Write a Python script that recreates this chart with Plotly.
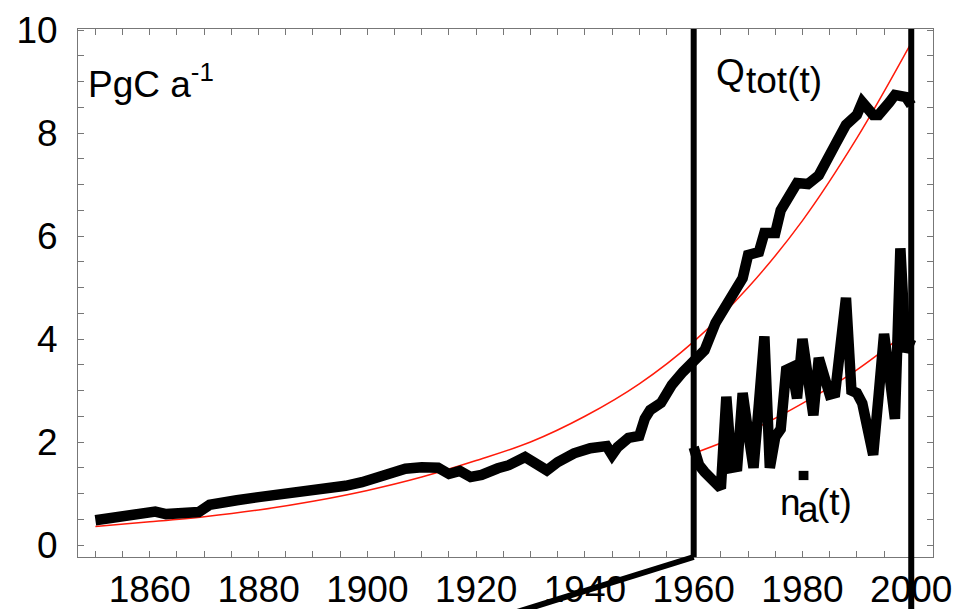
import plotly.graph_objects as go

# Total emissions Q_tot(t), PgC per year
q_years = [1850, 1852, 1854, 1857, 1861, 1863, 1866, 1869, 1871, 1873, 1876, 1880,
           1885, 1891, 1896, 1899, 1902, 1905, 1907, 1910, 1913, 1915, 1917, 1919,
           1921, 1924, 1926, 1929, 1931, 1933, 1935, 1938, 1941, 1944, 1945, 1946,
           1948, 1950, 1951, 1952, 1954, 1956, 1958, 1960, 1962, 1964, 1967, 1969,
           1970, 1972, 1973, 1975, 1976, 1979, 1981, 1983, 1986, 1988, 1990, 1991,
           1993, 1994, 1996, 1997, 1999, 2000]
q_vals = [0.48, 0.52, 0.56, 0.60, 0.65, 0.60, 0.62, 0.64, 0.78, 0.83, 0.87, 0.93,
          0.99, 1.07, 1.15, 1.22, 1.32, 1.40, 1.48, 1.51, 1.50, 1.38, 1.44, 1.32,
          1.36, 1.49, 1.55, 1.71, 1.60, 1.45, 1.61, 1.78, 1.88, 1.92, 1.75, 1.90,
          2.08, 2.12, 2.45, 2.62, 2.76, 3.11, 3.36, 3.55, 3.78, 4.31, 4.82, 5.18,
          5.63, 5.69, 6.06, 6.06, 6.50, 7.03, 7.01, 7.18, 7.77, 8.16, 8.35, 8.60,
          8.35, 8.35, 8.60, 8.74, 8.70, 8.54]

# Atmospheric increase n_a(t), PgC per year
na_years = list(range(1960, 2001))
na_vals = [1.90, 1.55, 1.42, 1.30, 1.20, 1.10, 2.88, 1.50, 1.52, 2.95,
           2.20, 1.50, 2.75, 4.05, 1.50, 2.10, 2.25, 3.40, 3.45, 2.85,
           4.00, 3.20, 2.52, 3.63, 3.20, 2.92, 2.95, 3.80, 4.80, 3.00,
           2.95, 2.75, 2.20, 1.75, 2.90, 4.10, 3.30, 2.45, 5.76, 3.75,
           4.00]

# Exponential reference curves
q_fit_years = [1850, 1860, 1870, 1880, 1890, 1900, 1910, 1920, 1930, 1940,
               1950, 1960, 1970, 1980, 1990, 2000]
q_fit_vals = [0.36, 0.45, 0.55, 0.68, 0.85, 1.06, 1.32, 1.64, 2.00, 2.50,
              3.13, 3.95, 5.00, 6.30, 7.90, 9.75]
na_fit_years = [1960, 1970, 1980, 1990, 2000]
na_fit_vals = [1.78, 2.20, 2.75, 3.40, 4.20]

x_ticks = [1860, 1880, 1900, 1920, 1940, 1960, 1980, 2000]
y_ticks = [0, 2, 4, 6, 8, 10]

W, H = 969, 609
ML, MR, MT, MB = 78, 36, 29, 52
FONT = "Liberation Sans"
FS = 37
FRAME = "#777777"


def px(xp):
    return (xp - ML) / (W - ML - MR)


def py(yp):
    return (H - MB - yp) / (H - MT - MB)


fig = go.Figure()

fig.add_trace(go.Scatter(x=q_fit_years, y=q_fit_vals, mode="lines",
                         line=dict(color="#ff1a0a", width=1.5, shape="spline")))
fig.add_trace(go.Scatter(x=na_fit_years, y=na_fit_vals, mode="lines",
                         line=dict(color="#ff1a0a", width=1.5, shape="spline")))
fig.add_trace(go.Scatter(x=q_years, y=q_vals, mode="lines",
                         line=dict(color="black", width=10.5)))
fig.add_trace(go.Scatter(x=na_years, y=na_vals, mode="lines",
                         line=dict(color="black", width=10.5)))

# bracket lines marking the 1960-2000 window
bracket = dict(color="black", width=6)
fig.add_shape(type="line", xref="x", yref="paper", x0=1960, x1=1960, y0=1, y1=0,
              line=bracket, layer="above")
fig.add_shape(type="line", xref="x", yref="paper", x0=1960, x1=1922.6, y0=0, y1=-0.12,
              line=bracket, layer="above")
fig.add_shape(type="line", xref="x", yref="paper", x0=2000, x1=2000, y0=1, y1=-0.12,
              line=bracket, layer="above")

# dot over the n
fig.add_shape(type="rect", xref="x", yref="y", x0=1979.3, x1=1981.1, y0=1.26, y1=1.44,
              fillcolor="black", line=dict(width=0), layer="above")

txt = dict(family=FONT, size=FS, color="black")


def label(text, xl, yb):
    fig.add_annotation(text=text, xref="paper", yref="paper", x=px(xl), y=py(yb),
                       xanchor="left", yanchor="bottom", showarrow=False,
                       font=txt, borderpad=0, borderwidth=0)


label("PgC a<sup>-1</sup>", 88, 105)
label("Q", 716, 93)
label("tot(t)", 746, 101)
label("n", 780, 523)
label("a", 798, 530)
label("(t)", 817, 523)

axis_common = dict(showline=True, linecolor=FRAME, linewidth=1, mirror="ticks",
                   ticks="inside", ticklen=6, tickcolor=FRAME, tickwidth=1,
                   showgrid=False, zeroline=False, automargin=False,
                   tickfont=dict(family=FONT, size=FS, color="black"))

fig.update_xaxes(range=[1846.8, 2004.0], tickmode="array", tickvals=x_ticks,
                 ticklabelstandoff=0,
                 minor=dict(dtick=5, tick0=1850, ticks="inside", ticklen=6,
                            tickcolor=FRAME, showgrid=False),
                 **axis_common)
fig.update_yaxes(range=[-0.233, 10.02], tickmode="array", tickvals=y_ticks,
                 ticklabelstandoff=12,
                 minor=dict(dtick=0.5, tick0=0, ticks="inside", ticklen=6,
                            tickcolor=FRAME, showgrid=False),
                 **axis_common)

fig.update_layout(width=W, height=H, margin=dict(l=ML, r=MR, t=MT, b=MB),
                  paper_bgcolor="white", plot_bgcolor="white", showlegend=False,
                  font=dict(family=FONT, size=FS, color="black"))

fig.write_html("out.html")
